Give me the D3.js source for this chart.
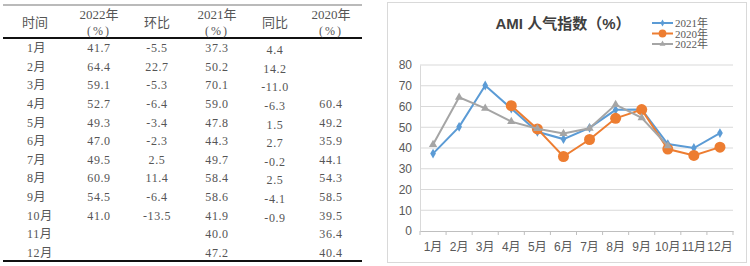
<!DOCTYPE html>
<html>
<head>
<meta charset="utf-8">
<script src="https://cdn.jsdelivr.net/npm/d3@7"></script>
<style>
  body { margin: 0; background: #fff; }
  svg { display: block; }
</style>
</head>
<body>
<svg id="chart" width="750" height="266"></svg>
<script>
// data
var months = ["1月","2月","3月","4月","5月","6月","7月","8月","9月","10月","11月","12月"];
var v2022 = [41.7, 64.4, 59.1, 52.7, 49.3, 47.0, 49.5, 60.9, 54.5, 41.0, null, null];
var hb = [-5.5, 22.7, -5.3, -6.4, -3.4, -2.3, 2.5, 11.4, -6.4, -13.5, null, null];
var v2021 = [37.3, 50.2, 70.1, 59.0, 47.8, 44.3, 49.7, 58.4, 58.6, 41.9, 40.0, 47.2];
var tb = [4.4, 14.2, -11.0, -6.3, 1.5, 2.7, -0.2, 2.5, -4.1, -0.9, null, null];
var v2020 = [null, null, null, 60.4, 49.2, 35.9, 44.1, 54.3, 58.5, 39.5, 36.4, 40.4];
var yTicks = [0, 10, 20, 30, 40, 50, 60, 70, 80];

var svg = d3.select("#chart");

// ---------- table ----------
var table = svg.append("g");
var serif = "'Liberation Serif','Noto Sans CJK SC',serif";

// column centres
var cols = [
  {head: ["时间"], vals: months, x: 27, anchor: "start"},
  {head: ["2022年", "(%)"], vals: v2022, x: 99},
  {head: ["环比"], vals: hb, x: 157},
  {head: ["2021年", "(%)"], vals: v2021, x: 217},
  {head: ["同比"], vals: tb, x: 275, dy: 2},
  {head: ["2020年", "(%)"], vals: v2020, x: 331}
];

var rowY = d3.scalePoint().domain(months).range([52, 257]);

table.append("line").attr("x1", 3).attr("x2", 362).attr("y1", 5).attr("y2", 5)
  .attr("stroke", "#777").attr("stroke-width", 1.2);
table.append("line").attr("x1", 3).attr("x2", 362).attr("y1", 38).attr("y2", 38)
  .attr("stroke", "#111").attr("stroke-width", 2.2);
table.append("line").attr("x1", 3).attr("x2", 362).attr("y1", 261).attr("y2", 261)
  .attr("stroke", "#111").attr("stroke-width", 2.2);

cols.forEach(function (c) {
  var hx = c.anchor === "start" ? c.x + 8 : c.x;
  if (c.head.length === 1) {
    table.append("text").attr("x", hx).attr("y", 27)
      .attr("text-anchor", "middle").attr("font-family", serif)
      .attr("font-size", 13).attr("fill", "#555").text(c.head[0]);
  } else {
    table.append("text").attr("x", hx).attr("y", 19)
      .attr("text-anchor", "middle").attr("font-family", serif)
      .attr("font-size", 13).attr("fill", "#555").text(c.head[0]);
    table.append("text").attr("x", hx).attr("y", 35)
      .attr("text-anchor", "middle").attr("font-family", serif)
      .attr("font-size", 12).attr("letter-spacing", 2).attr("fill", "#555").text(c.head[1]);
  }
  table.append("g").selectAll("text")
    .data(c.vals.map(function (v, i) { return {m: months[i], v: v}; }).filter(function (d) { return d.v !== null; }))
    .enter().append("text")
    .attr("x", c.x)
    .attr("y", function (d) { return rowY(d.m) + (c.dy || 0); })
    .attr("text-anchor", c.anchor || "middle")
    .attr("font-family", serif)
    .attr("font-size", 12)
    .attr("letter-spacing", 0.6)
    .attr("fill", "#555")
    .text(function (d) { return typeof d.v === "number" ? d.v.toFixed(1) : d.v; });
});

// ---------- line chart ----------
var chart = svg.append("g");
chart.append("rect").attr("x", 387.5).attr("y", 2.5).attr("width", 359).attr("height", 260)
  .attr("fill", "#fff").attr("stroke", "#d9d9d9");

var xScale = d3.scaleBand().domain(months).range([420, 733]);
var yScale = d3.scaleLinear().domain([0, 80]).range([231, 65]);
var sans = "'Liberation Sans',Arial,'Noto Sans CJK SC',sans-serif";

// gridlines
chart.append("g").selectAll("line")
  .data(yTicks.filter(function (t) { return t > 0; }))
  .enter().append("line")
  .attr("x1", 420).attr("x2", 733)
  .attr("y1", function (d) { return yScale(d); })
  .attr("y2", function (d) { return yScale(d); })
  .attr("stroke", "#d9d9d9");

// y axis labels
var yAxis = chart.append("g")
  .attr("transform", "translate(420,0)")
  .call(d3.axisLeft(yScale).tickValues(yTicks).tickSize(0).tickPadding(8));
yAxis.select(".domain").attr("stroke", "#d9d9d9");
yAxis.selectAll("text").attr("font-family", sans).attr("font-size", 12).attr("fill", "#595959");

// x axis
var xAxis = chart.append("g")
  .attr("transform", "translate(0,231)")
  .call(d3.axisBottom(xScale).tickSize(0).tickPadding(11));
xAxis.select(".domain").attr("stroke", "#bfbfbf");
xAxis.selectAll("text").attr("font-family", sans).attr("font-size", 12).attr("fill", "#595959");
xAxis.append("g").selectAll("line")
  .data(months.concat(["end"]))
  .enter().append("line")
  .attr("x1", function (d, i) { return 420 + i * xScale.bandwidth(); })
  .attr("x2", function (d, i) { return 420 + i * xScale.bandwidth(); })
  .attr("y1", 0).attr("y2", 4)
  .attr("stroke", "#bfbfbf");

// series
var series = [
  {name: "2021年", vals: v2021, color: "#5b9bd5", sym: d3.symbolDiamond, size: 28},
  {name: "2020年", vals: v2020, color: "#ed7d31", sym: d3.symbolCircle, size: 95},
  {name: "2022年", vals: v2022, color: "#a5a5a5", sym: d3.symbolTriangle, size: 30}
];

var line = d3.line()
  .defined(function (d) { return d.v !== null; })
  .x(function (d) { return xScale(d.m) + xScale.bandwidth() / 2; })
  .y(function (d) { return yScale(d.v); });

series.forEach(function (s) {
  var pts = s.vals.map(function (v, i) { return {m: months[i], v: v}; });
  chart.append("path")
    .datum(pts)
    .attr("fill", "none")
    .attr("stroke", s.color)
    .attr("stroke-width", 2)
    .attr("d", line);
  chart.append("g").selectAll("path")
    .data(pts.filter(function (d) { return d.v !== null; }))
    .enter().append("path")
    .attr("transform", function (d) { return "translate(" + (xScale(d.m) + xScale.bandwidth() / 2) + "," + yScale(d.v) + ")"; })
    .attr("d", d3.symbol().type(s.sym).size(s.size))
    .attr("fill", s.color);
});

// title
chart.append("text")
  .attr("x", 563).attr("y", 29)
  .attr("text-anchor", "middle")
  .attr("font-family", sans)
  .attr("font-size", 15)
  .attr("font-weight", "bold")
  .attr("fill", "#404040")
  .text("AMI 人气指数（%）");

// legend
var legend = chart.append("g").attr("transform", "translate(652,23)");
series.forEach(function (s, i) {
  var g = legend.append("g").attr("transform", "translate(0," + (i * 10.5) + ")");
  g.append("line").attr("x1", 0).attr("x2", 21).attr("y1", 0).attr("y2", 0)
    .attr("stroke", s.color).attr("stroke-width", 2);
  g.append("path").attr("transform", "translate(10.5,0)")
    .attr("d", d3.symbol().type(s.sym).size(s.size * 0.5))
    .attr("fill", s.color);
  g.append("text").attr("x", 23).attr("y", 4)
    .attr("font-family", serif)
    .attr("font-size", 11)
    .attr("fill", "#595959")
    .text(s.name);
});
</script>
</body>
</html>
